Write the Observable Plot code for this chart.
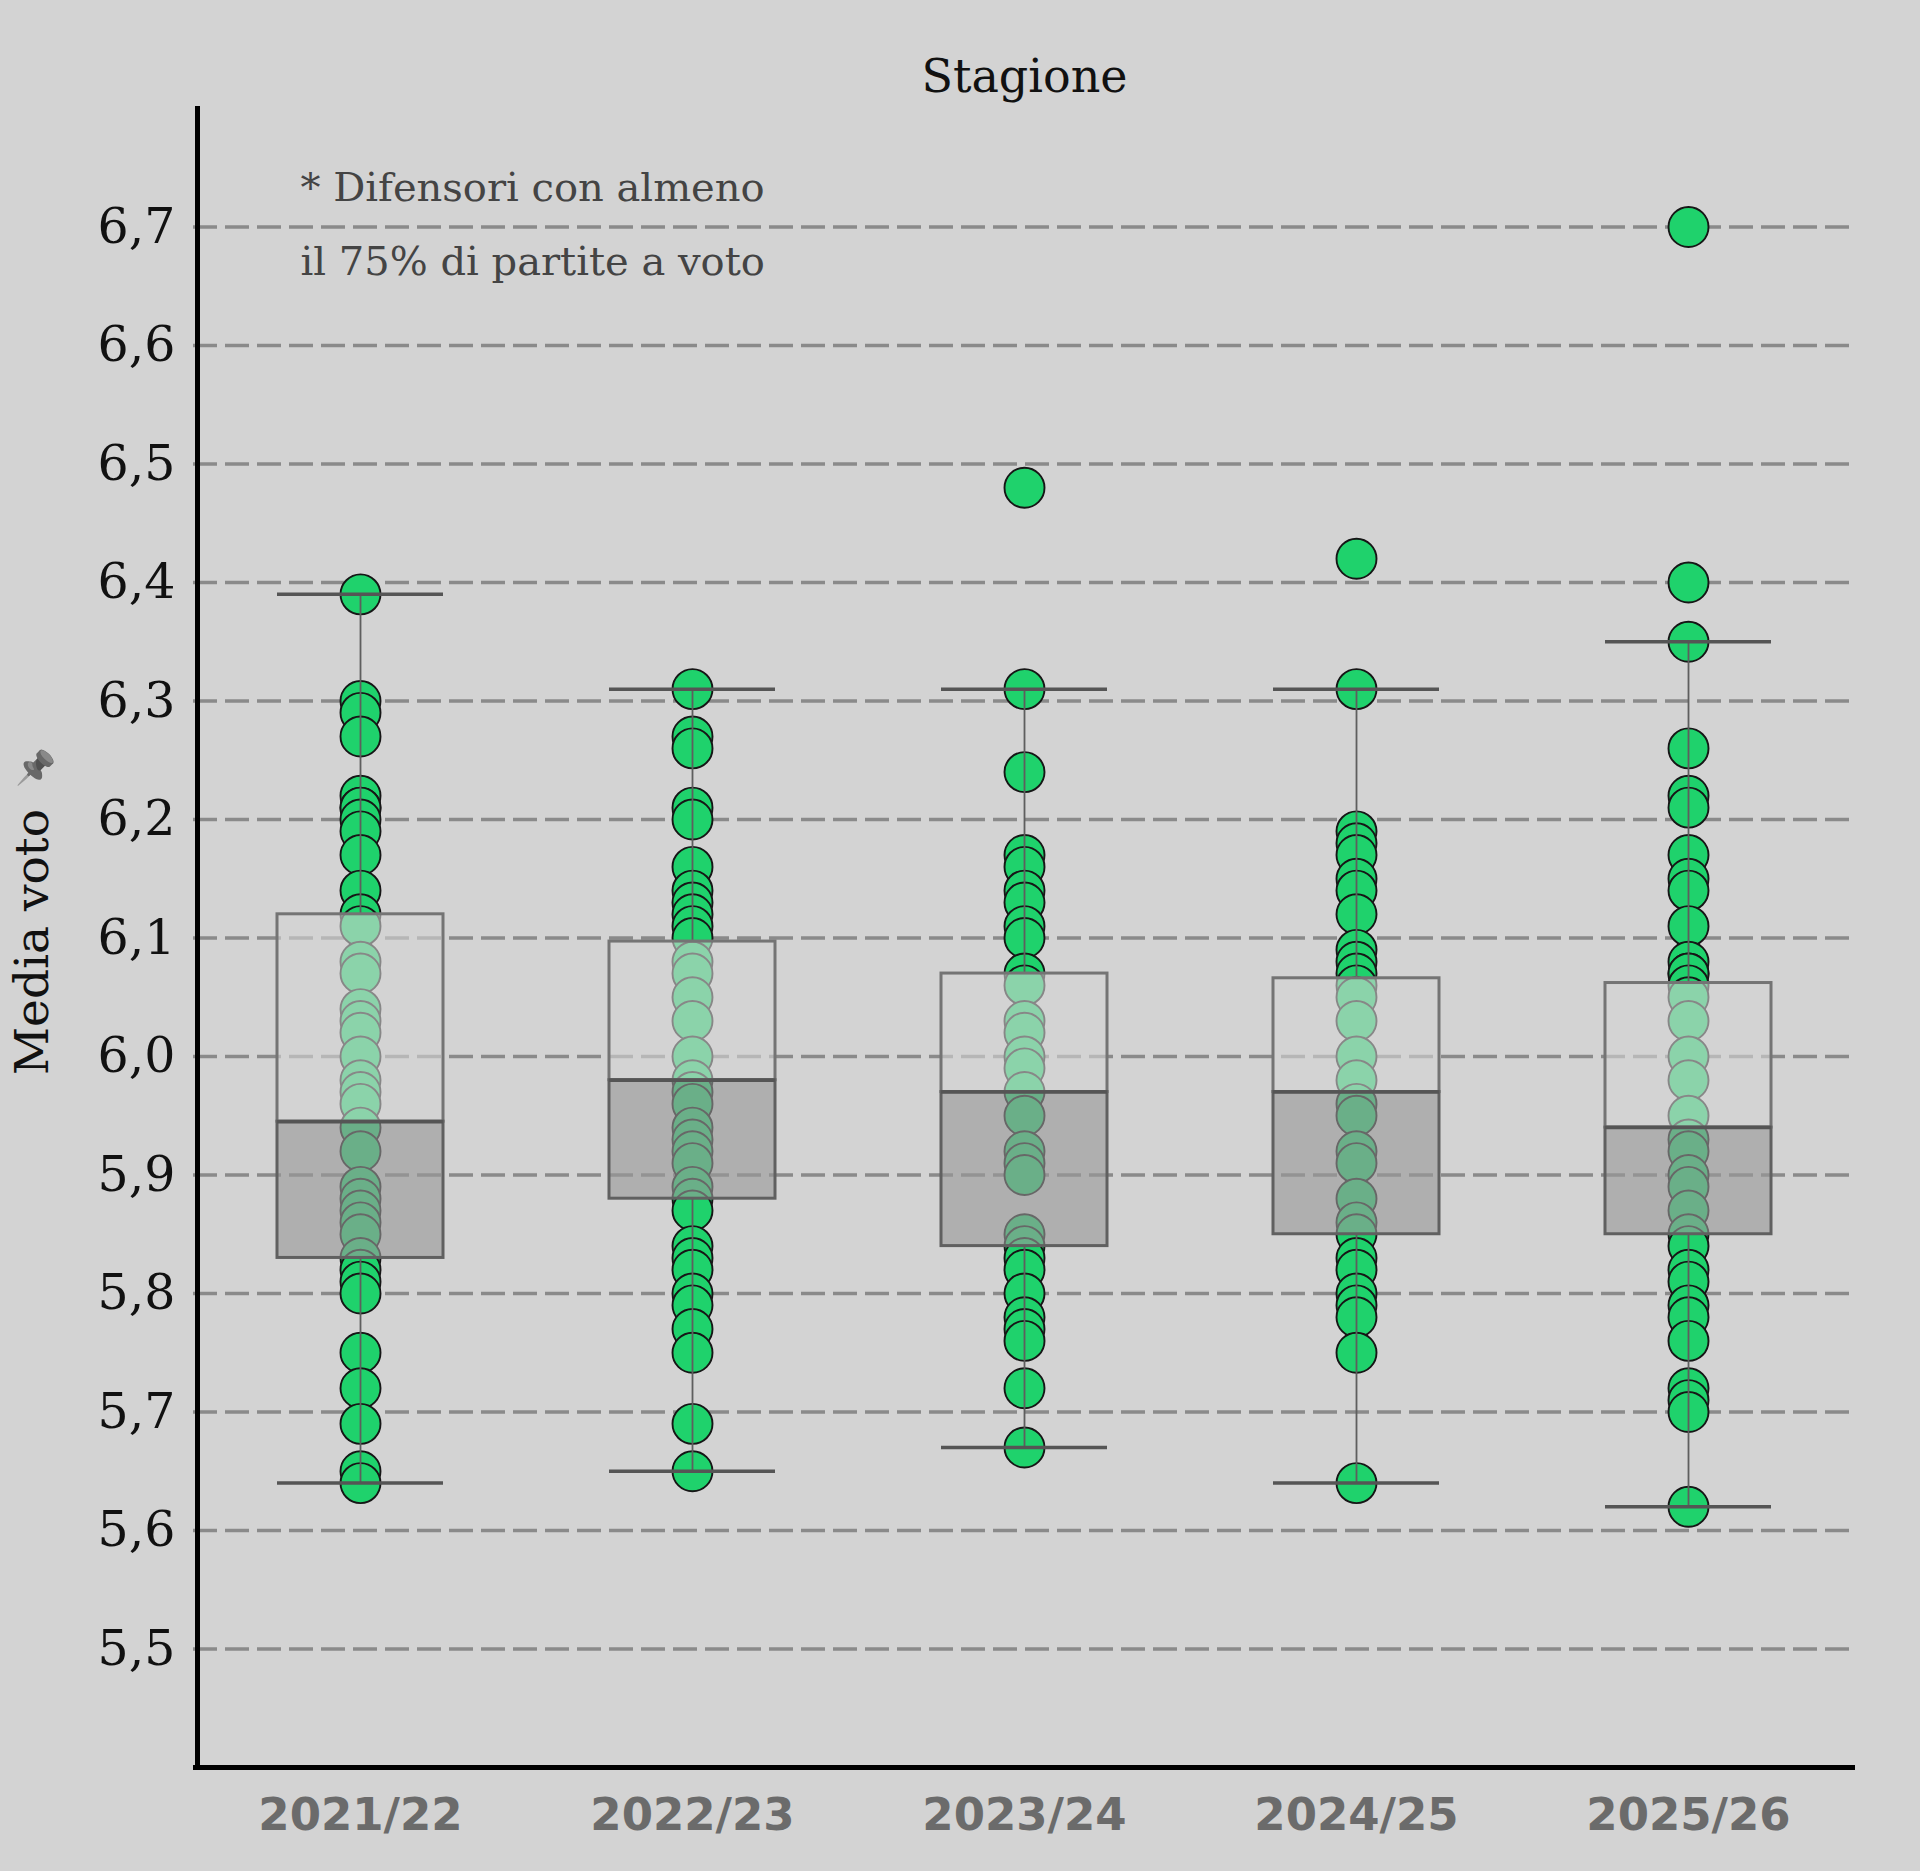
<!DOCTYPE html>
<html>
<head>
<meta charset="utf-8">
<script src="https://cdn.jsdelivr.net/npm/d3@7"></script>
<script src="https://cdn.jsdelivr.net/npm/@observablehq/plot@0.6"></script>
<style>
  html, body { margin: 0; padding: 0; background: #d3d3d3; }
  #chart svg { display: block; }
</style>
</head>
<body>
<div id="chart"></div>
<script>
// ---- data ----
const seasons = ["2021/22", "2022/23", "2023/24", "2024/25", "2025/26"];

const votes2122 = [6.39, 6.30, 6.29, 6.27, 6.22, 6.21, 6.21, 6.20, 6.19, 6.17, 6.14, 6.12, 6.11, 6.08, 6.07, 6.04, 6.03, 6.02, 6.00,
  5.98, 5.97, 5.96, 5.94, 5.92, 5.89, 5.88, 5.87, 5.86, 5.85, 5.83, 5.82, 5.81, 5.80, 5.75, 5.72, 5.69, 5.65, 5.64];
const votes2223 = [6.31, 6.27, 6.26, 6.21, 6.20, 6.16, 6.14, 6.13, 6.12, 6.11, 6.10, 6.08, 6.07, 6.05, 6.03, 6.00,
  5.98, 5.97, 5.96, 5.94, 5.93, 5.92, 5.91, 5.89, 5.88, 5.87, 5.84, 5.83, 5.82, 5.80, 5.79, 5.77, 5.75, 5.69, 5.65];
const votes2324 = [6.48, 6.31, 6.24, 6.17, 6.16, 6.14, 6.13, 6.11, 6.10, 6.07, 6.06, 6.03, 6.02, 6.00, 5.99, 5.97, 5.95,
  5.92, 5.91, 5.90, 5.85, 5.84, 5.83, 5.82, 5.80, 5.78, 5.77, 5.76, 5.72, 5.67];
const votes2425 = [6.42, 6.31, 6.19, 6.18, 6.17, 6.15, 6.14, 6.12, 6.09, 6.08, 6.07, 6.06, 6.05, 6.03, 6.00, 5.98, 5.96,
  5.95, 5.92, 5.91, 5.88, 5.86, 5.85, 5.83, 5.82, 5.80, 5.79, 5.78, 5.75, 5.64];
const votes2526 = [6.70, 6.40, 6.35, 6.26, 6.22, 6.21, 6.17, 6.15, 6.14, 6.11, 6.08, 6.07, 6.07, 6.06, 6.05, 6.03, 6.00,
  5.98, 5.95, 5.93, 5.92, 5.90, 5.89, 5.87, 5.85, 5.84, 5.82, 5.81, 5.79, 5.78, 5.76, 5.72, 5.71, 5.70, 5.62];

// box-plot statistics per season
const whiskerLow  = [5.64, 5.65, 5.67, 5.64, 5.62];
const quartile1   = [5.83, 5.88, 5.84, 5.85, 5.85];
const medians     = [5.945, 5.98, 5.97, 5.97, 5.94];
const quartile3   = [6.12, 6.097, 6.07, 6.066, 6.062];
const whiskerHigh = [6.39, 6.31, 6.31, 6.31, 6.35];

const yTicks = [5.5, 5.6, 5.7, 5.8, 5.9, 6.0, 6.1, 6.2, 6.3, 6.4, 6.5, 6.6, 6.7];
const yDomain = [5.4, 6.8];

const title = "Stagione";
const yLabel = "Media voto";
const yIcon = "📌";
const noteLines = ["* Difensori con almeno", "il 75% di partite a voto"];

// ---- tables built from the arrays ----
const allVotes = [votes2122, votes2223, votes2324, votes2425, votes2526];
const points = seasons.flatMap((s, i) => allVotes[i].map(v => ({season: s, voto: v})));
const stats = seasons.map((s, i) => ({
  season: s, lo: whiskerLow[i], q1: quartile1[i], med: medians[i], q3: quartile3[i], hi: whiskerHigh[i]
}));

const serif = "'DejaVu Serif', Georgia, serif";
const sans = "'DejaVu Sans', 'Liberation Sans', sans-serif";

const chart = Plot.plot({
  width: 1920,
  height: 1871,
  marginLeft: 193,
  marginRight: 65,
  marginTop: 108,
  marginBottom: 104,
  style: {background: "#d3d3d3", fontFamily: serif, overflow: "visible"},
  x: {domain: seasons, paddingInner: 0.5, paddingOuter: 0.25, label: null},
  y: {domain: yDomain, label: null},
  marks: [
    Plot.gridY(yTicks, {stroke: "#8a8a8a", strokeOpacity: 1, strokeWidth: 3.5, strokeDasharray: "24,8"}),
    Plot.dot(points, {x: "season", y: "voto", r: 20, fill: "#1fd26c", stroke: "#161616", strokeWidth: 1.9}),
    Plot.ruleX(stats, {x: "season", y1: "lo", y2: "q1", stroke: "#5e5e5e", strokeWidth: 1.8}),
    Plot.ruleX(stats, {x: "season", y1: "q3", y2: "hi", stroke: "#5e5e5e", strokeWidth: 1.8}),
    Plot.barY(stats, {x: "season", y1: "med", y2: "q3", fill: "#d3d3d3", fillOpacity: 0.6, stroke: "#747474", strokeWidth: 3}),
    Plot.barY(stats, {x: "season", y1: "q1", y2: "med", fill: "#999999", fillOpacity: 0.62, stroke: "#606060", strokeWidth: 3}),
    Plot.tickY(stats, {x: "season", y: "med", stroke: "#555555", strokeWidth: 3.5}),
    Plot.tickY(stats, {x: "season", y: "hi", stroke: "#555555", strokeWidth: 3.5}),
    Plot.tickY(stats, {x: "season", y: "lo", stroke: "#555555", strokeWidth: 3.5}),
    Plot.axisY(yTicks, {
      tickSize: 0, tickPadding: 18, fontSize: 49, fill: "#111", fontFamily: serif,
      tickFormat: d => d.toFixed(1).replace(".", ","), label: null
    }),
    Plot.axisX({
      tickSize: 0, tickPadding: 31, fontSize: 45, fontWeight: "bold", fill: "#6b6b6b", fontFamily: sans, label: null
    }),
    Plot.ruleY([yDomain[0]], {stroke: "#000", strokeWidth: 5}),
    Plot.frame({anchor: "left", stroke: "#000", strokeWidth: 5, dx: 4}),
    Plot.text([title], {frameAnchor: "top", dy: -17, lineAnchor: "bottom", fontSize: 46, fill: "#111", fontFamily: serif}),
    Plot.text([noteLines.join("\n")], {
      frameAnchor: "top-left", dx: 107, dy: 106, textAnchor: "start", lineAnchor: "middle",
      lineHeight: 1.85, fontSize: 40, fill: "#444", fontFamily: serif
    }),
    Plot.text([yLabel], {frameAnchor: "left", textAnchor: "middle", dx: -161, dy: 4, rotate: -90, fontSize: 47, fill: "#111", fontFamily: serif}),
    Plot.text([yIcon], {frameAnchor: "left", textAnchor: "middle", lineAnchor: "middle", dx: -158, dy: -170, fontSize: 33, fill: "#6f7c8c", fontFamily: sans})
  ]
});

// render the pin icon in muted slate gray like the reference
d3.select(chart).selectAll("text").filter(function () { return this.textContent === yIcon; })
  .style("filter", "grayscale(1) brightness(0.9)").style("opacity", 0.9);

document.getElementById("chart").appendChild(chart);
</script>
</body>
</html>
